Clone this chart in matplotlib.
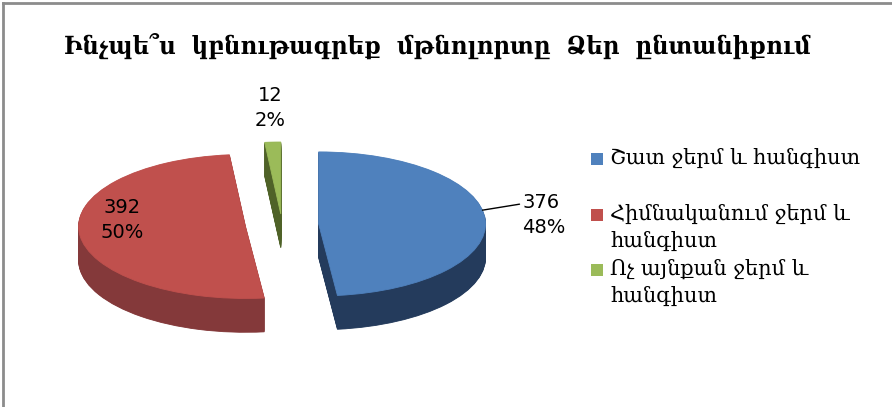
import numpy as np
import matplotlib
matplotlib.use("Agg")
import matplotlib.pyplot as plt
from matplotlib.lines import Line2D
from matplotlib.patches import Rectangle

# --------------------------
# Data
# --------------------------
title = "Ինչպե՞ս  կբնութագրեք  մթնոլորտը  Ձեր  ընտանիքում"
categories = ["Շատ ջերմ և հանգիստ",
              "Հիմնականում ջերմ և\nհանգիստ",
              "Ոչ այնքան ջերմ և\nհանգիստ"]
values = [376, 392, 12]
top_colors = ["#4F81BD", "#C0504D", "#9BBB59"]
side_colors = ["#243B5C", "#84393A", "#4F6228"]
explode = [0.22, 0.22, 0.15]

serif = ["DejaVu Serif", "DejaVu Sans"]
num_font = ["DejaVu Sans"]

fig = plt.figure(figsize=(8.92, 4.07), dpi=100)
fig.patch.set_facecolor("white")

# pie lives in a squashed axes so the circle turns into a tilted ellipse
ax = fig.add_axes([15 / 892, 67 / 407, 534 / 892, 252 / 407])

depth = 0.47
n_layers = 48
for dz in np.linspace(-depth, 0, n_layers, endpoint=False):
    ax.pie(values, explode=explode, colors=side_colors, startangle=90,
           counterclock=False, center=(0, dz), wedgeprops=dict(linewidth=0.6))
    for w, c in zip(ax.patches[-3:], side_colors):
        w.set_edgecolor(c)

wedges, _ = ax.pie(values, explode=explode, colors=top_colors, startangle=90,
                   counterclock=False, wedgeprops=dict(linewidth=0.6))
for w, c in zip(wedges, top_colors):
    w.set_edgecolor(c)

ax.set_aspect("auto")
ax.set_xlim(-1.6, 1.6)
ax.set_ylim(-1.6, 1.9)
ax.axis("off")

# --------------------------
# Data labels
# --------------------------
total = sum(values)
labels = [f"{v}\n{round(100 * v / total)}%" for v in values]
lab_kw = dict(fontsize=14, family=num_font, linespacing=1.4)

# blue: outside with a leader line
w = wedges[0]
ang = np.deg2rad(11)
edge = (w.center[0] + np.cos(ang), w.center[1] + np.sin(ang))
ax.annotate(labels[0], xy=edge, xytext=(1.44, 0.14), ha="left", va="center",
            arrowprops=dict(arrowstyle="-", color="black", lw=1,
                            shrinkA=0, shrinkB=0, relpos=(0, 0.75)),
            **lab_kw)
# red: inside
ax.text(-0.96, 0.06, labels[1], ha="center", va="center", **lab_kw)
# green: above
ax.text(-0.07, 1.62, labels[2], ha="center", va="center", **lab_kw)

# --------------------------
# Title and legend
# --------------------------
t = fig.text(437 / 892, 1 - 46 / 407, title, ha="center", va="center",
             fontsize=21, fontweight="bold", family=serif,
             fontstretch="condensed")
fig.canvas.draw()
tw = t.get_window_extent().width
if tw > 747:
    t.set_fontsize(21 * 747 / tw)

legend_rows = [159, 215, 270]
for y, lab, c in zip(legend_rows, categories, top_colors):
    fig.add_artist(Rectangle((591 / 892, 1 - (y + 6) / 407), 12 / 892, 12 / 407,
                             transform=fig.transFigure, facecolor=c,
                             edgecolor="none"))
    fig.text(610 / 892, 1 - (y - 11) / 407, lab, ha="left", va="top",
             fontsize=15, family=serif, linespacing=1.42)

# frame (only top and left edges show in the crop)
fig.add_artist(Line2D([3 / 892, 3 / 892], [0, 1 - 3 / 407], color="#8C8C8C",
                      lw=2, transform=fig.transFigure))
fig.add_artist(Line2D([3 / 892, 1], [1 - 3 / 407, 1 - 3 / 407], color="#8C8C8C",
                      lw=2, transform=fig.transFigure))

fig.savefig("out.png", dpi=100, facecolor="white")
